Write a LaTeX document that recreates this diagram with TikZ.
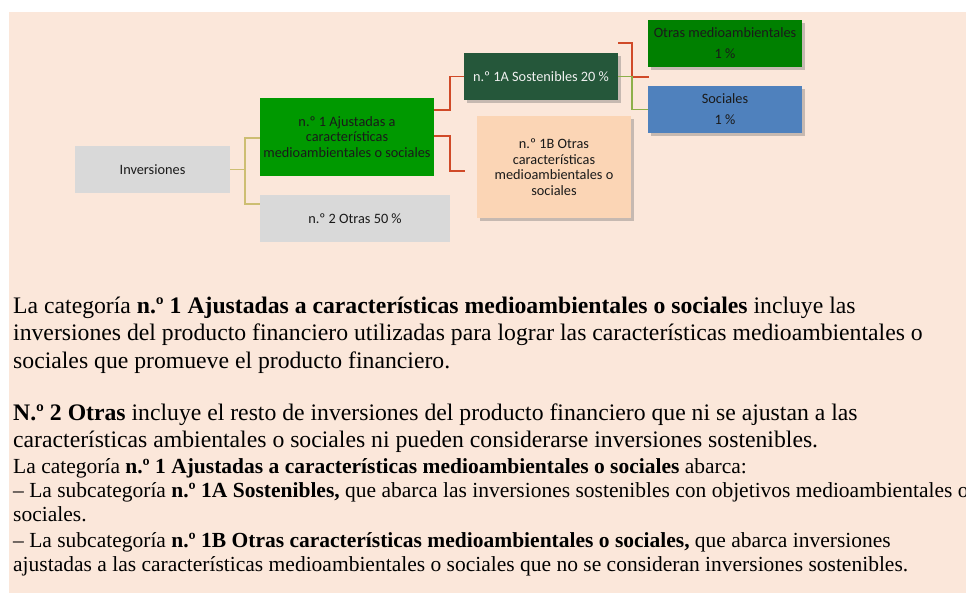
\documentclass[tikz,border=0pt]{standalone}
\usepackage{fontspec}
\setmainfont{Liberation Serif}
\newfontfamily\carlito{Carlito}
\usetikzlibrary{shadows,calc}
\definecolor{bgpeach}{HTML}{FBE7DA}
\definecolor{boxgray}{HTML}{D9D9D9}
\definecolor{brightgreen}{HTML}{009900}
\definecolor{darkgreen}{HTML}{25573A}
\definecolor{peachbox}{HTML}{FBD5B5}
\definecolor{midgreen}{HTML}{008000}
\definecolor{socblue}{HTML}{4F81BD}
\definecolor{linered}{HTML}{D04A28}
\definecolor{linekhaki}{HTML}{CDBE72}
\definecolor{linegreen}{HTML}{8DB04A}
\definecolor{txtdark}{HTML}{1A1A1A}
\tikzset{
  box/.style={rectangle, inner sep=0pt, align=center, text=txtdark,
    font=\carlito\fontsize{14.3}{15.5}\selectfont},
  shad/.style={drop shadow={shadow xshift=2.5pt, shadow yshift=-3pt, opacity=0.35, fill=black!60}},
  conn/.style={line width=1.8pt},
  para/.style={anchor=base west, inner sep=0pt, text=black},
  bigtxt/.style={font=\fontsize{23.7}{27}\selectfont},
  smalltxt/.style={font=\fontsize{21.5}{24}\selectfont}
}
\begin{document}
\begin{tikzpicture}[x=1pt,y=-1pt]
\useasboundingbox (0,0) rectangle (966,593);
\fill[bgpeach] (9,12) rectangle (966,593);

% boxes
\node[box, fill=boxgray, minimum width=155pt, minimum height=47pt] (inv) at (152.5,169.5) {Inversiones};
\node[box, fill=brightgreen, minimum width=174pt, minimum height=78pt] (n1) at (347,137) {n.º 1 Ajustadas a\\características\\medioambientales o sociales};
\node[box, fill=boxgray, minimum width=190pt, minimum height=47pt] (n2) at (355,218.5) {n.º 2 Otras 50 \%};
\node[box, shad, fill=darkgreen, text=white!94!black, minimum width=154pt, minimum height=47pt] (a1) at (541,76.5) {n.º 1A Sostenibles 20 \%};
\node[box, shad, fill=peachbox, minimum width=154pt, minimum height=102pt] (b1) at (554,167) {n.º 1B Otras\\características\\medioambientales o\\sociales};
\node[box, shad, fill=midgreen, minimum width=154pt, minimum height=47pt, font=\carlito\fontsize{14.3}{21}\selectfont] (om) at (725,43.5) {Otras medioambientales\\1 \%};
\node[box, shad, fill=socblue, minimum width=154pt, minimum height=47pt, font=\carlito\fontsize{14.3}{21}\selectfont] (soc) at (725,109.5) {Sociales\\1 \%};

% connectors
\coordinate (invj) at ($(inv.east)+(15,0)$);
\draw[conn, linekhaki] (inv.east) -- (invj) |- ([yshift=-1pt]n1.west);
\draw[conn, linekhaki] (invj) |- ([yshift=-9pt]n2.north west);
\draw[conn, linered] ([yshift=-12pt]n1.north east) -- ++(16,0) |- (a1.west);
\coordinate (b1end) at ([xshift=-12pt,yshift=-4pt]b1.west);
\draw[conn, linered] ([yshift=-38pt]n1.north east) -- ++(16,0) |- (b1end);
\coordinate (omend) at ([xshift=1pt,yshift=-10pt]om.south west);
\draw[conn, linered] ([yshift=10pt]a1.north east) -- ++(14,0) |- (omend);
\draw[conn, linegreen] (a1.east) -- ++(14,0) |- (soc.west);

% text
\node[para, bigtxt] (t1) at (13,314) {La categoría \textbf{n.º 1 Ajustadas a características medioambientales o sociales} incluye las};
\node[para, bigtxt] (t2) at (13,341) {inversiones del producto financiero utilizadas para lograr las características medioambientales o};
\node[para, bigtxt] (t3) at (13,368) {sociales que promueve el producto financiero.};
\node[para, bigtxt] (t4) at (13,420) {\textbf{N.º 2 Otras} incluye el resto de inversiones del producto financiero que ni se ajustan a las};
\node[para, bigtxt] (t5) at (13,447) {características ambientales o sociales ni pueden considerarse inversiones sostenibles.};
\node[para, smalltxt] (t6) at (13,473) {La categoría \textbf{n.º 1 Ajustadas a características medioambientales o sociales} abarca:};
\node[para, smalltxt] (t7) at (13,497) {– La subcategoría \textbf{n.º 1A Sostenibles,} que abarca las inversiones sostenibles con objetivos medioambientales o};
\node[para, smalltxt] (t8) at (13,521) {sociales.};
\node[para, smalltxt] (t9) at (13,547) {– La subcategoría \textbf{n.º 1B Otras características medioambientales o sociales,} que abarca inversiones};
\node[para, smalltxt] (t10) at (13,571) {ajustadas a las características medioambientales o sociales que no se consideran inversiones sostenibles.};
\end{tikzpicture}
\end{document}
